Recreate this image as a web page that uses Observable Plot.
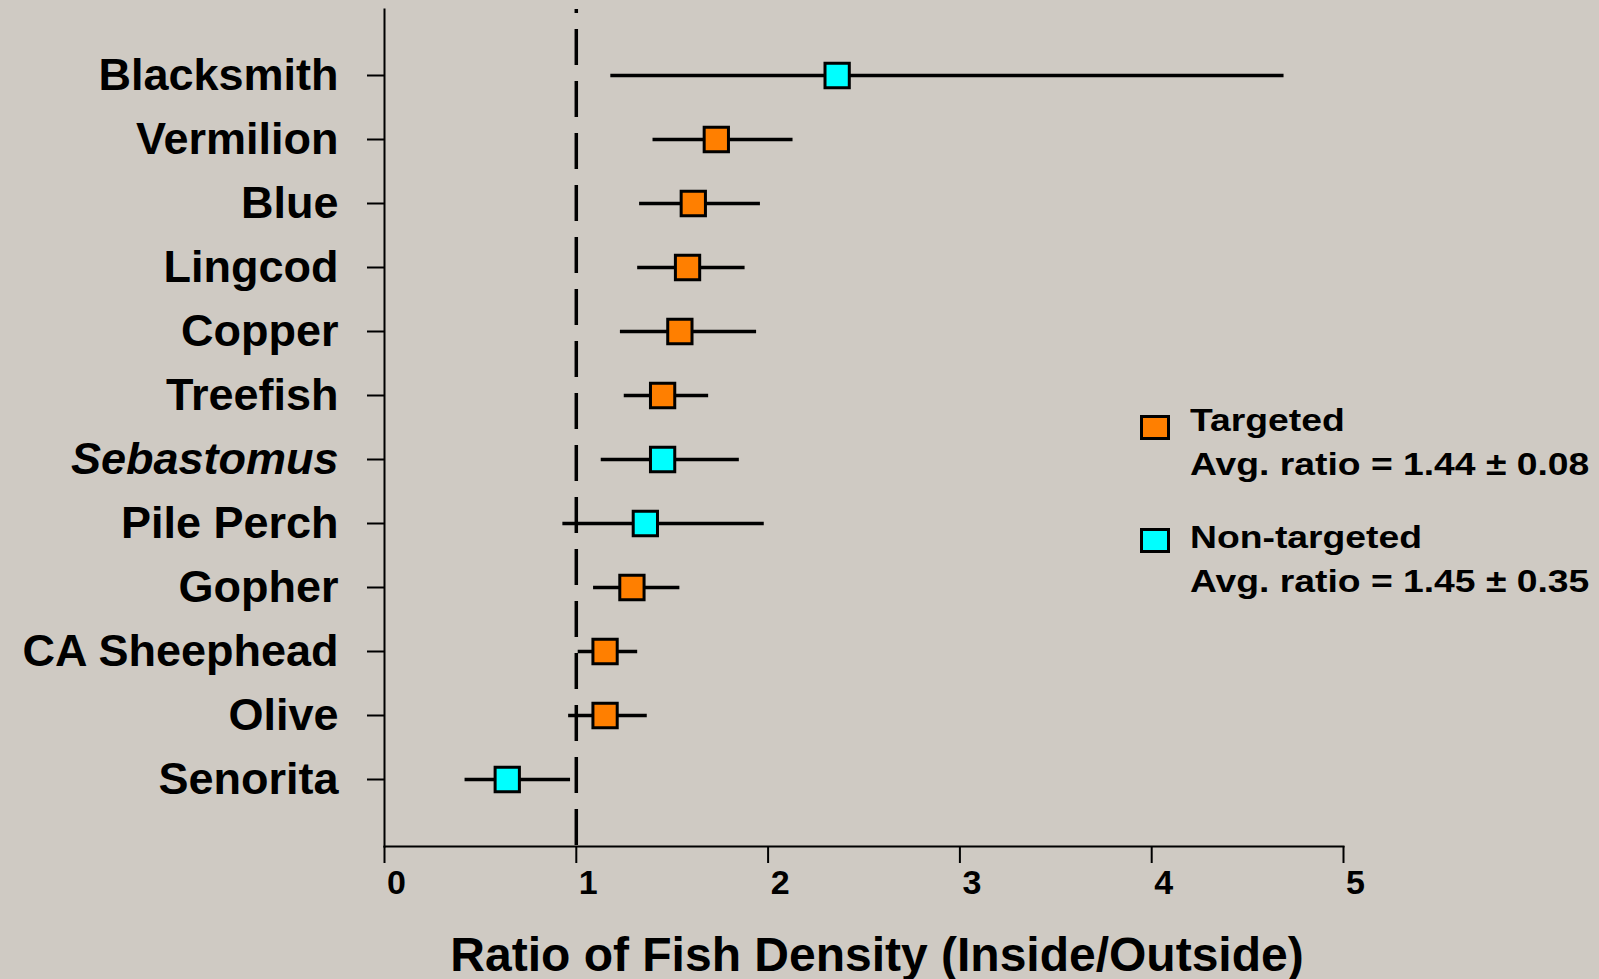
<!DOCTYPE html>
<html>
<head>
<meta charset="utf-8">
<script src="https://cdn.jsdelivr.net/npm/d3@7"></script>
<script src="https://cdn.jsdelivr.net/npm/@observablehq/plot@0.6"></script>
<style>
  html, body { margin: 0; padding: 0; background: #cfcac3; overflow: hidden; }
  #wrap { position: relative; width: 1599px; height: 979px; font-family: "Liberation Sans", Arial, sans-serif; }
  #chart svg { display: block; }
  .leg-sq { position: absolute; width: 24px; height: 19px; border: 3px solid #000; box-sizing: content-box; }
  .leg-tx { position: absolute; font-size: 32px; font-weight: bold; line-height: 44px; white-space: pre; transform: scaleX(1.165); transform-origin: left center; color: #000; }
</style>
</head>
<body>
<div id="wrap">
  <div id="chart"></div>
  <div id="legend"></div>
</div>
<script>
// ---- data ----
const species = ["Blacksmith", "Vermilion", "Blue", "Lingcod", "Copper", "Treefish", "Sebastomus", "Pile Perch", "Gopher", "CA Sheephead", "Olive", "Senorita"];
const ratio = [2.36, 1.73, 1.61, 1.58, 1.54, 1.45, 1.45, 1.36, 1.29, 1.15, 1.15, 0.64];
const lower = [1.18, 1.40, 1.33, 1.32, 1.23, 1.25, 1.13, 0.93, 1.09, 1.01, 0.96, 0.42];
const upper = [4.69, 2.13, 1.96, 1.88, 1.94, 1.69, 1.85, 1.98, 1.54, 1.32, 1.37, 0.97];
const group = ["Non-targeted", "Targeted", "Targeted", "Targeted", "Targeted", "Targeted", "Non-targeted", "Non-targeted", "Targeted", "Targeted", "Targeted", "Non-targeted"];
const groups = ["Targeted", "Non-targeted"];
const groupColors = ["#ff7f00", "#00ffff"];
const legendLines = [["Targeted", "Avg. ratio = 1.44 ± 0.08"], ["Non-targeted", "Avg. ratio = 1.45 ± 0.35"]];
const xTicks = [0, 1, 2, 3, 4, 5];
const xLabel = "Ratio of Fish Density (Inside/Outside)";
const refLine = [1];
const italicSpecies = ["Sebastomus"];

const data = species.map((s, i) => ({species: s, ratio: ratio[i], lower: lower[i], upper: upper[i], group: group[i]}));

const font = "'Liberation Sans', Arial, sans-serif";

const chart = Plot.plot({
  width: 1599,
  height: 979,
  marginLeft: 384,
  marginRight: 256,
  marginTop: 9,
  marginBottom: 133,
  style: {background: "transparent", fontFamily: font, color: "#000", overflow: "visible"},
  x: {domain: [0, 5], ticks: xTicks},
  y: {type: "point", domain: species, range: [72.7, 781], padding: 0},
  color: {domain: groups, range: groupColors},
  marks: [
    Plot.frame({anchor: "left", stroke: "#000", strokeWidth: 2}),
    Plot.frame({anchor: "bottom", stroke: "#000", strokeWidth: 2}),
    Plot.axisY(species.filter(s => !italicSpecies.includes(s)), {
      tickSize: 17, tickPadding: 29, fontSize: 45, fontWeight: "bold", strokeWidth: 2, label: null
    }),
    Plot.axisY(italicSpecies, {
      tickSize: 17, tickPadding: 29, fontSize: 45, fontWeight: "bold", fontStyle: "italic", strokeWidth: 2, label: null
    }),
    Plot.axisX(xTicks, {
      tickSize: 17, tickFormat: () => "", strokeWidth: 2, label: null
    }),
    Plot.axisX(xTicks, {
      tickSize: 0, tickPadding: 23, fontSize: 34, fontWeight: "bold", dx: 12, tickFormat: d => String(d), label: null
    }),
    Plot.text([xLabel], {
      frameAnchor: "bottom", dx: 13, dy: 109, lineAnchor: "middle", fontSize: 48, fontWeight: "bold", fill: "#000"
    }),
    Plot.ruleX(refLine, {stroke: "#000", strokeWidth: 3.5, strokeDasharray: "36,16", strokeDashoffset: 32}),
    Plot.ruleY(data, {y: "species", x1: "lower", x2: "upper", stroke: "#000", strokeWidth: 3.3}),
    Plot.dot(data, {x: "ratio", y: "species", symbol: "square", r: 13.7, fill: "group", stroke: "#000", strokeWidth: 3, fillOpacity: 1})
  ]
});
document.getElementById("chart").appendChild(chart);

// ---- legend (HTML overlay) ----
const legend = document.getElementById("legend");
const legendTops = [398, 515];
const squareTops = [415, 528];
groups.forEach((g, i) => {
  const sq = document.createElement("div");
  sq.className = "leg-sq";
  sq.style.left = "1140px";
  sq.style.top = squareTops[i] + "px";
  sq.style.background = groupColors[i];
  legend.appendChild(sq);
  legendLines[i].forEach((line, j) => {
    const t = document.createElement("div");
    t.className = "leg-tx";
    t.style.left = "1190px";
    t.style.top = (legendTops[i] + j * 44) + "px";
    t.textContent = line;
    legend.appendChild(t);
  });
});
</script>
</body>
</html>
